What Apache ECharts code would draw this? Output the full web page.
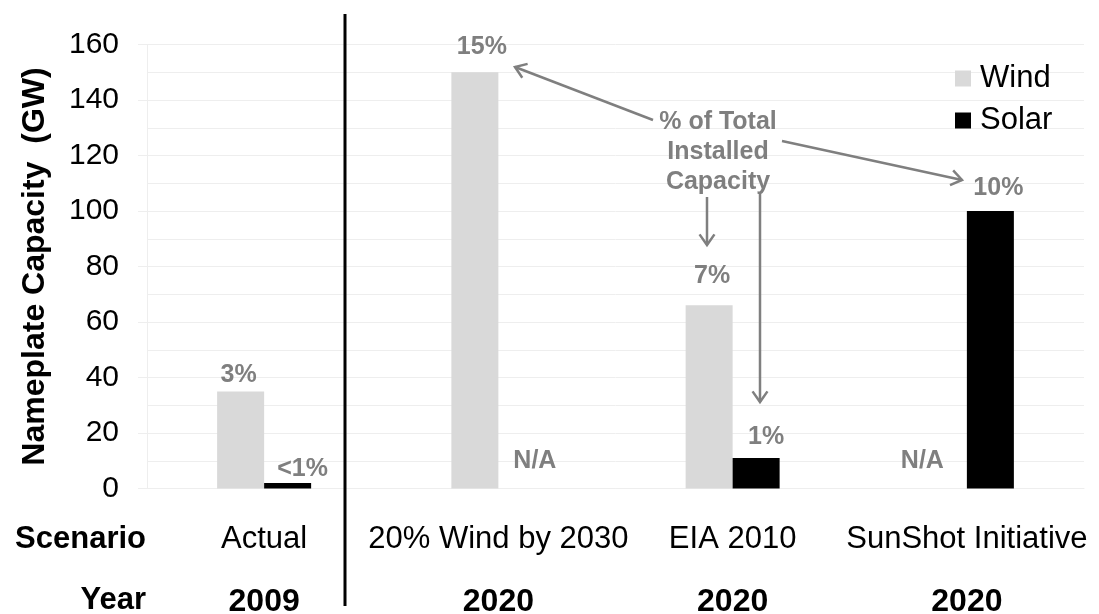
<!DOCTYPE html>
<html>
<head>
<meta charset="utf-8">
<script src="https://cdn.jsdelivr.net/npm/echarts@6/dist/echarts.min.js"></script>
<style>
html,body{margin:0;padding:0;background:#fff;}
#chart{width:1099px;height:614px;}
</style>
</head>
<body>
<div id="chart"></div>
<script>
// ---- data ----
const categories = ['Actual', '20% Wind by 2030', 'EIA 2010', 'SunShot Initiative'];
const years = ['2009', '2020', '2020', '2020'];
const wind = [35, 150, 66, null];
const solar = [2, null, 11, 100];
const windLabels = ['3%', '15%', '7%', 'N/A'];
const solarLabels = ['<1%', 'N/A', '1%', '10%'];
const yMin = 0, yMax = 160, yStep = 20;

// ---- layout tweaks for labels (not data) ----
const windLabelDist = [4, 13, 17, 15];
const windLabelDx = [-2, 7, 3, -21];
const solarLabelDist = [1, 15, 8, 10];
const solarLabelDx = [15, 13, 10, 8];

const FONT = "'Liberation Sans', Arial, Helvetica, sans-serif";
const GRAY = '#7f7f7f';
const GRID = '#eeeeee';

function buildData(vals, labels, dist, dx) {
  return vals.map((v, i) => ({
    value: v == null ? 0 : v,
    label: { formatter: labels[i], distance: dist[i], offset: [dx[i], 0] }
  }));
}

const chart = echarts.init(document.getElementById('chart'), null, { renderer: 'canvas' });

const labelStyle = {
  show: true, position: 'top', color: GRAY, fontWeight: 'bold',
  fontSize: 25, fontFamily: FONT
};

function arrow(x1, y1, x2, y2) {
  const dx = x2 - x1, dy = y2 - y1, L = Math.hypot(dx, dy);
  const ux = dx / L, uy = dy / L, a = 35 * Math.PI / 180, h = 13;
  const r1 = [ux * Math.cos(a) - uy * Math.sin(a), ux * Math.sin(a) + uy * Math.cos(a)];
  const r2 = [ux * Math.cos(-a) - uy * Math.sin(-a), ux * Math.sin(-a) + uy * Math.cos(-a)];
  const st = { stroke: GRAY, lineWidth: 2.5, fill: null };
  return [
    { type: 'line', shape: { x1, y1, x2, y2 }, style: st, z: 50 },
    { type: 'polyline', shape: { points: [[x2 - h * r1[0], y2 - h * r1[1]], [x2, y2], [x2 - h * r2[0], y2 - h * r2[1]]] }, style: st, z: 50 }
  ];
}

const graphics = [
  { type: 'line', shape: { x1: 345, y1: 14, x2: 345, y2: 606 }, style: { stroke: '#000', lineWidth: 3 }, z: 60 },
  { type: 'text', x: 146, y: 539, style: { text: 'Scenario', font: `bold 31px ${FONT}`, fill: '#000', textAlign: 'right', textVerticalAlign: 'middle' } },
  { type: 'text', x: 146, y: 600, style: { text: 'Year', font: `bold 31px ${FONT}`, fill: '#000', textAlign: 'right', textVerticalAlign: 'middle' } },
  { type: 'text', x: 718, y: 152, z: 55, style: { text: '% of Total\nInstalled\nCapacity', font: `bold 25px ${FONT}`, fill: GRAY, textAlign: 'center', textVerticalAlign: 'middle', lineHeight: 30 } }
].concat(
  arrow(653, 120, 515, 67),
  arrow(782, 141, 962, 180),
  arrow(707, 197, 707, 245),
  arrow(760, 193, 760, 402)
);

const option = {
  animation: false,
  backgroundColor: '#ffffff',
  textStyle: { fontFamily: FONT },
  grid: { left: 147, right: 15, top: 44.5, bottom: 125.5, containLabel: false, outerBoundsMode: 'none' },
  legend: {
    data: ['Wind', 'Solar'],
    orient: 'vertical',
    left: 955, top: 63,
    padding: 0,
    itemWidth: 16, itemHeight: 16, itemGap: 11,
    icon: 'rect',
    textStyle: { fontSize: 31, color: '#000', fontFamily: FONT, padding: [0, 0, 0, 4] }
  },
  xAxis: {
    type: 'category',
    data: categories,
    axisLine: { show: true, lineStyle: { color: GRID, width: 1 } },
    axisTick: { show: false },
    axisLabel: {
      interval: 0,
      margin: 36,
      formatter: (v, i) => `{s|${v}}\n{y|${years[i]}}`,
      rich: {
        s: { fontSize: 31, color: '#000', fontFamily: FONT, lineHeight: 30 },
        y: { fontSize: 32, color: '#000', fontFamily: FONT, fontWeight: 'bold', lineHeight: 96 }
      }
    }
  },
  yAxis: {
    type: 'value',
    min: yMin, max: yMax, interval: yStep,
    name: 'Nameplate Capacity  (GW)',
    nameLocation: 'middle',
    nameGap: 96,
    nameTextStyle: { fontSize: 32, fontWeight: 'bold', color: '#000', fontFamily: FONT },
    axisLine: { show: true, lineStyle: { color: GRID } },
    axisTick: { show: true, length: 9, lineStyle: { color: GRID } },
    axisLabel: { fontSize: 30, color: '#000', fontFamily: FONT, margin: 28 },
    splitLine: { show: true, lineStyle: { color: GRID, width: 1 } },
    minorTick: { show: false, splitNumber: 2 },
    minorSplitLine: { show: true, lineStyle: { color: GRID, width: 1 } }
  },
  series: [
    {
      name: 'Wind', type: 'bar', barWidth: 47, barGap: '0%',
      itemStyle: { color: '#d9d9d9' },
      label: labelStyle,
      data: buildData(wind, windLabels, windLabelDist, windLabelDx)
    },
    {
      name: 'Solar', type: 'bar', barWidth: 47, barGap: '0%',
      itemStyle: { color: '#000000' },
      label: labelStyle,
      data: buildData(solar, solarLabels, solarLabelDist, solarLabelDx)
    }
  ],
  graphic: graphics
};

chart.setOption(option);
</script>
</body>
</html>
